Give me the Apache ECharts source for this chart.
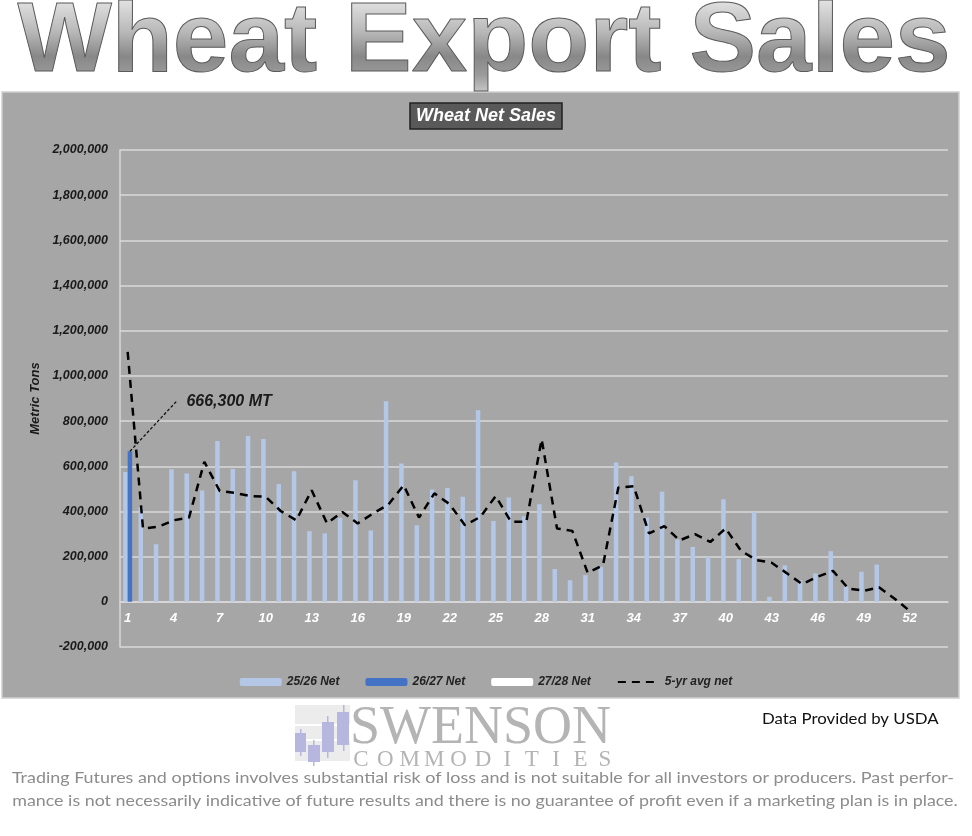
<!DOCTYPE html>
<html>
<head>
<meta charset="utf-8">
<script src="https://cdn.jsdelivr.net/npm/echarts@6/dist/echarts.min.js"></script>
<style>
  html, body { margin: 0; padding: 0; background: #fff; }
  #chart { width: 972px; height: 836px; }
</style>
</head>
<body>
<div id="chart"></div>
<script>
// week numbers (54 slots, labels shown every 3rd)
var weeks = [];
for (var i = 1; i <= 54; i++) weeks.push(String(i));

// 25/26 net sales, metric tons
var net2526 = [575000, 420000, 255000, 587000, 568000, 493000, 712000, 588000, 734000, 721000,
  521000, 578000, 313000, 303000, 372000, 538000, 316000, 888000, 612000, 339000,
  497000, 504000, 465000, 848000, 358000, 462000, 379000, 432000, 145000, 96000,
  118000, 155000, 617000, 556000, 373000, 488000, 276000, 243000, 199000, 454000,
  189000, 398000, 22000, 161000, 96000, 126000, 224000, 66000, 133000, 165000,
  null, null, null, null];

// 26/27 net sales - first week only
var net2627 = [666300];
// 27/28 net sales - nothing yet
var net2728 = [];

// 5-yr average net sales
var avg5yr = [1106000, 325000, 332000, 361000, 373000, 620000, 491000, 482000, 468000, 465000,
  401000, 361000, 494000, 347000, 398000, 347000, 391000, 430000, 516000, 373000,
  480000, 432000, 339000, 376000, 468000, 354000, 354000, 719000, 325000, 314000,
  128000, 162000, 506000, 512000, 303000, 335000, 272000, 300000, 265000, 325000,
  226000, 185000, 173000, 126000, 78000, 111000, 137000, 59000, 49000, 64000,
  15000, -40000, null, null];

var seriesNames = ['25/26 Net', '26/27 Net', '27/28 Net', '5-yr avg net'];

var labelFont = { fontFamily: 'Liberation Sans', fontWeight: 'bold', fontStyle: 'italic' };

// logo candles (decoration)
var logo = [
  { type: 'rect', shape: { x: 295, y: 705, width: 55, height: 19 }, style: { fill: '#ececec' } },
  { type: 'rect', shape: { x: 295, y: 726, width: 44, height: 13 }, style: { fill: '#ececec' } },
  { type: 'rect', shape: { x: 295, y: 741, width: 55, height: 20 }, style: { fill: '#ececec' } },
  { type: 'rect', shape: { x: 300, y: 729, width: 1.5, height: 27 }, style: { fill: '#b6b6de' } },
  { type: 'rect', shape: { x: 295, y: 733, width: 11, height: 19 }, style: { fill: '#b6b6de' } },
  { type: 'rect', shape: { x: 313, y: 740, width: 1.5, height: 26 }, style: { fill: '#b6b6de' } },
  { type: 'rect', shape: { x: 308, y: 745, width: 12, height: 17 }, style: { fill: '#b6b6de' } },
  { type: 'rect', shape: { x: 327, y: 716, width: 1.5, height: 42 }, style: { fill: '#b6b6de' } },
  { type: 'rect', shape: { x: 322, y: 722, width: 12, height: 30 }, style: { fill: '#b6b6de' } },
  { type: 'rect', shape: { x: 343, y: 705, width: 1.5, height: 46 }, style: { fill: '#b6b6de' } },
  { type: 'rect', shape: { x: 337, y: 712, width: 12, height: 33 }, style: { fill: '#b6b6de' } }
];

var commodities = 'COMMODITIES'.split('').map(function (ch, k) {
  return {
    type: 'text', x: 361 + k * 24.4, y: 760,
    style: { text: ch, fill: '#b4b4b4', font: '23px "Liberation Serif"', align: 'center', verticalAlign: 'middle' }
  };
});

// big heading: solid text, then a gradient painted only onto the text pixels, then the outline
var headFont = 'bold 98px "Liberation Sans"';
var heading = [
  { type: 'text', x: 484, y: 43.5, scaleX: 1.02, z: 10,
    style: { text: 'Wheat Export Sales', font: headFont, align: 'center', verticalAlign: 'middle', fill: '#999' } },
  { type: 'rect', z: 11, shape: { x: 0, y: 0, width: 972, height: 91 },
    style: {
      blend: 'source-atop',
      fill: new echarts.graphic.LinearGradient(0, 0, 0, 1, [
        { offset: 0, color: '#e2e2e2' },
        { offset: 0.35, color: '#b8b8b8' },
        { offset: 0.62, color: '#888888' },
        { offset: 0.82, color: '#9a9a9a' },
        { offset: 1, color: '#c4c4c4' }
      ])
    } },
  { type: 'text', x: 484, y: 43.5, scaleX: 1.02, z: 12,
    style: { text: 'Wheat Export Sales', font: headFont, align: 'center', verticalAlign: 'middle',
      fill: 'none', stroke: '#5a5a5a', lineWidth: 1 } }
];

var myChart = echarts.init(document.getElementById('chart'));

var option = {
  animation: false,
  backgroundColor: 'transparent',
  graphic: [
    { type: 'rect', z: -10, shape: { x: 2, y: 92, width: 957, height: 606 },
      style: { fill: '#a6a6a6', stroke: '#cfcfcf', lineWidth: 1.5 } },
    { type: 'text', x: 762, y: 719, scaleX: 1.05,
      style: { text: 'Data Provided by USDA', fill: '#111', font: '16px Lato', verticalAlign: 'middle' } },
    { type: 'text', x: 350, y: 729,
      style: { text: 'SWENSON', fill: '#b4b4b4', font: '54px "Liberation Serif"', verticalAlign: 'middle' } },
    { type: 'text', x: 483, y: 778, scaleX: 1.12,
      style: { text: 'Trading Futures and options involves substantial risk of loss and is not suitable for all investors or producers. Past perfor-',
        fill: '#8c8c8c', font: '16px Lato', align: 'center', verticalAlign: 'middle' } },
    { type: 'text', x: 485, y: 801, scaleX: 1.115,
      style: { text: 'mance is not necessarily indicative of future results and there is no guarantee of profit even if a marketing plan is in place.',
        fill: '#8c8c8c', font: '16px Lato', align: 'center', verticalAlign: 'middle' } }
  ].concat(heading, logo, commodities),
  title: {
    text: 'Wheat Net Sales',
    left: 'center',
    top: 103,
    backgroundColor: '#595959',
    borderColor: '#222',
    borderWidth: 1.5,
    padding: [4, 6],
    textStyle: { color: '#fff', fontSize: 18, fontFamily: 'Liberation Sans', fontWeight: 'bold', fontStyle: 'italic' }
  },
  legend: {
    data: [seriesNames[0], seriesNames[1], seriesNames[2],
      { name: seriesNames[3], itemStyle: { opacity: 0 } }],
    top: 671,
    left: 'center',
    itemWidth: 42,
    itemHeight: 8,
    itemGap: 26,
    textStyle: Object.assign({ color: '#222', fontSize: 12 }, labelFont)
  },
  grid: { left: 120, right: 24, top: 150, bottom: 189 },
  xAxis: {
    type: 'category',
    data: weeks,
    offset: -45.2,
    axisLine: { onZero: false, lineStyle: { color: '#d9d9d9', width: 1.5 } },
    axisTick: { show: false },
    axisLabel: Object.assign({ interval: 2, color: '#fff', fontSize: 13, margin: 10 }, labelFont)
  },
  yAxis: {
    type: 'value',
    min: -200000,
    max: 2000000,
    interval: 200000,
    name: 'Metric Tons',
    nameLocation: 'middle',
    nameRotate: 90,
    nameGap: 78,
    nameTextStyle: Object.assign({ color: '#1a1a1a', fontSize: 13 }, labelFont),
    axisLine: { show: true, lineStyle: { color: '#d9d9d9', width: 1.5 } },
    axisTick: { show: false },
    splitLine: { lineStyle: { color: '#d9d9d9', width: 1.5 } },
    axisLabel: Object.assign({
      color: '#1a1a1a', fontSize: 12.5, margin: 12,
      formatter: function (v) { return v.toLocaleString('en-US'); }
    }, labelFont)
  },
  series: [
    {
      name: seriesNames[0], type: 'bar', data: net2526,
      barWidth: 4.5, barGap: '0%',
      itemStyle: { color: '#b4c7e7' }
    },
    {
      name: seriesNames[1], type: 'bar', data: net2627, stack: 'new',
      barWidth: 4.5, barGap: '0%',
      itemStyle: { color: '#4472c4' },
      markLine: {
        silent: true,
        symbol: ['none', 'none'],
        lineStyle: { color: '#111', type: [3, 2], width: 1.3 },
        label: { show: false },
        data: [[{ coord: ['1', 666300] }, { coord: ['4', 885000] }]]
      },
      markPoint: {
        silent: true,
        symbol: 'circle',
        symbolSize: 1,
        itemStyle: { color: '#111' },
        label: Object.assign({
          show: true, position: 'right', distance: 10, formatter: '666,300 MT',
          color: '#1a1a1a', fontSize: 16
        }, labelFont),
        data: [{ coord: ['4', 885000] }]
      }
    },
    {
      name: seriesNames[2], type: 'bar', data: net2728, stack: 'new',
      barWidth: 4.5, barGap: '0%',
      itemStyle: { color: '#ffffff' }
    },
    {
      name: seriesNames[3], type: 'line', data: avg5yr,
      symbol: 'none',
      lineStyle: { color: '#000', width: 2.5, type: [8, 6] },
      itemStyle: { color: '#000' }
    }
  ]
};

myChart.setOption(option);
</script>
</body>
</html>
